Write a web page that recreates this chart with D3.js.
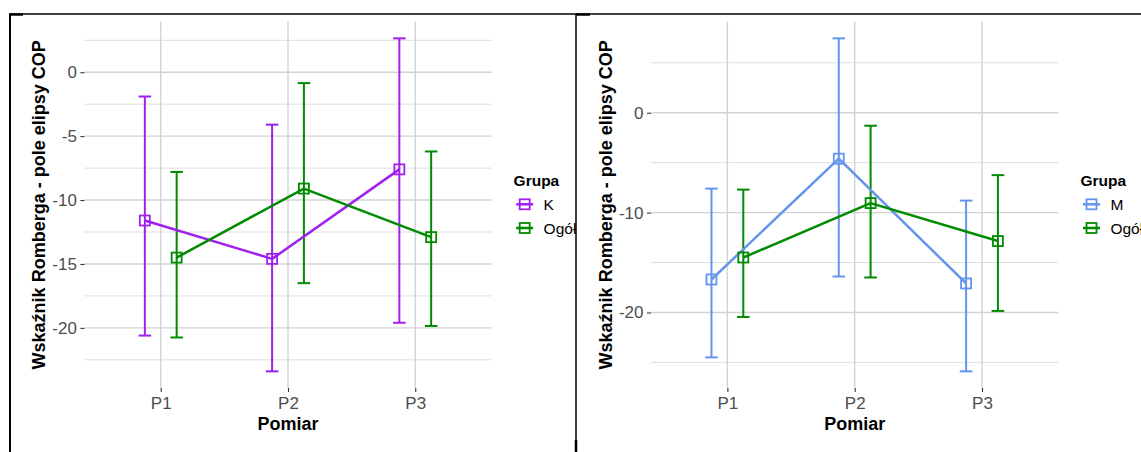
<!DOCTYPE html>
<html>
<head>
<meta charset="utf-8">
<script src="https://cdn.jsdelivr.net/npm/d3@7"></script>
<style>
  body { margin: 0; background: #fff; }
  svg { display: block; font-family: "Liberation Sans", Arial, sans-serif; }
</style>
</head>
<body>
<svg id="chart" width="1141" height="452"></svg>
<script>
// Measurement points
const categories = ["P1", "P2", "P3"];

// Left chart: group K vs. overall
const kMean  = [-11.6, -14.6, -7.6];
const kLower = [-20.6, -23.4, -19.6];
const kUpper = [-1.9, -4.1, 2.65];
const ogolLeftMean  = [-14.5, -9.1, -12.9];
const ogolLeftLower = [-20.75, -16.5, -19.85];
const ogolLeftUpper = [-7.8, -0.85, -6.2];

// Right chart: group M vs. overall
const mMean  = [-16.7, -4.6, -17.1];
const mLower = [-24.5, -16.4, -25.9];
const mUpper = [-7.6, 7.45, -8.8];
const ogolRightMean  = [-14.5, -9.05, -12.85];
const ogolRightLower = [-20.45, -16.5, -19.85];
const ogolRightUpper = [-7.7, -1.3, -6.25];

// Axis ticks
const leftMajorTicks = [0, -5, -10, -15, -20];
const leftMajorLabels = ["0", "-5", "-10", "-15", "-20"];
const leftMinorTicks = [2.5, -2.5, -7.5, -12.5, -17.5, -22.5];
const rightMajorTicks = [0, -10, -20];
const rightMajorLabels = ["0", "-10", "-20"];
const rightMinorTicks = [5, -5, -15, -25];

const yTitle = "Wskaźnik Romberga - pole elipsy COP";
const xTitle = "Pomiar";
const legendTitle = "Grupa";

const colK = "#a020f0";
const colM = "#6495ed";
const colOgol = "#008b00";

const svg = d3.select("#chart");

function drawPanel(cfg) {
  const g = svg.append("g").attr("clip-path", cfg.clip ? `url(#${cfg.clip})` : null);
  const top = 21.7, bottom = 388;
  const x = d3.scalePoint().domain(categories).range([cfg.left, cfg.right]).padding(0.6);
  const step = x.step();

  const allVals = cfg.series.flatMap(s => [...s.mean, ...s.lower, ...s.upper]);
  const [lo, hi] = d3.extent(allVals);
  const pad = (hi - lo) * 0.05;
  const y = d3.scaleLinear().domain([lo - pad, hi + pad]).range([bottom, top]);

  // grid
  g.append("g").selectAll("line").data(cfg.minor).join("line")
    .attr("x1", cfg.left).attr("x2", cfg.right)
    .attr("y1", d => y(d)).attr("y2", d => y(d))
    .attr("stroke", "#dedede").attr("stroke-width", 1);
  g.append("g").selectAll("line").data(cfg.major).join("line")
    .attr("x1", cfg.left).attr("x2", cfg.right)
    .attr("y1", d => y(d)).attr("y2", d => y(d))
    .attr("stroke", "#d2d2d2").attr("stroke-width", 1.4);
  g.append("g").selectAll("line").data(categories).join("line")
    .attr("x1", d => x(d)).attr("x2", d => x(d))
    .attr("y1", top).attr("y2", bottom)
    .attr("stroke", "#d2d2d2").attr("stroke-width", 1.4);

  // axes
  const yAxis = d3.axisLeft(y).tickValues(cfg.major)
    .tickFormat((d, i) => cfg.majorLabels[i]).tickSize(4).tickPadding(3.5);
  const ya = g.append("g").attr("transform", `translate(${cfg.left},0)`).call(yAxis);
  ya.select(".domain").remove();
  ya.selectAll(".tick line").attr("stroke", "#333").attr("stroke-width", 1.1);
  ya.selectAll(".tick text").attr("fill", "#4d4d4d").attr("font-size", 17)
    .attr("font-family", "Liberation Sans, Arial, sans-serif");

  const xAxis = d3.axisBottom(x).tickSize(4).tickPadding(4.5);
  const xa = g.append("g").attr("transform", `translate(0,${bottom})`).call(xAxis);
  xa.select(".domain").remove();
  xa.selectAll(".tick line").attr("stroke", "#333").attr("stroke-width", 1.1);
  xa.selectAll(".tick text").attr("fill", "#4d4d4d").attr("font-size", 17)
    .attr("font-family", "Liberation Sans, Arial, sans-serif");

  // titles
  g.append("text").attr("x", (cfg.left + cfg.right) / 2).attr("y", 430)
    .attr("text-anchor", "middle").attr("font-size", 18).attr("font-weight", "bold")
    .attr("fill", "#000").text(xTitle);
  g.append("text")
    .attr("transform", `translate(${cfg.left - 39.4},${(top + bottom) / 2}) rotate(-90)`)
    .attr("text-anchor", "middle").attr("font-size", 18).attr("font-weight", "bold")
    .attr("fill", "#000").text(yTitle);

  const px = (s, i) => x(categories[i]) + s.dodge * step;
  const sq = 10;

  // error bars
  cfg.series.forEach(s => {
    const eg = g.append("g").attr("stroke", s.color).attr("stroke-width", 2).attr("fill", "none");
    categories.forEach((c, i) => {
      const cx = px(s, i), cap = 6.3;
      eg.append("line").attr("x1", cx).attr("x2", cx).attr("y1", y(s.lower[i])).attr("y2", y(s.upper[i]));
      eg.append("line").attr("x1", cx - cap).attr("x2", cx + cap).attr("y1", y(s.lower[i])).attr("y2", y(s.lower[i]));
      eg.append("line").attr("x1", cx - cap).attr("x2", cx + cap).attr("y1", y(s.upper[i])).attr("y2", y(s.upper[i]));
    });
  });

  // connecting lines
  cfg.series.forEach(s => {
    const line = d3.line().x((d, i) => px(s, i)).y(d => y(d));
    g.append("path").datum(s.mean).attr("d", line)
      .attr("fill", "none").attr("stroke", s.color).attr("stroke-width", 2.5)
      .attr("stroke-linejoin", "round");
  });

  // points (open squares)
  cfg.series.forEach(s => {
    g.append("g").selectAll("rect").data(s.mean).join("rect")
      .attr("x", (d, i) => px(s, i) - sq / 2).attr("y", d => y(d) - sq / 2)
      .attr("width", sq).attr("height", sq)
      .attr("fill", "none").attr("stroke", s.color).attr("stroke-width", 1.8);
  });

  // legend
  const lx = cfg.right;
  g.append("text").attr("x", lx + 22).attr("y", 185.5)
    .attr("font-size", 15.5).attr("font-weight", "bold").attr("fill", "#000").text(legendTitle);
  cfg.series.forEach((s, k) => {
    const ry = 204.3 + k * 23.7;
    const kg = g.append("g");
    kg.append("line").attr("x1", lx + 24.6).attr("x2", lx + 41.6).attr("y1", ry).attr("y2", ry)
      .attr("stroke", s.color).attr("stroke-width", 2.5);
    kg.append("rect").attr("x", lx + 33.1 - sq / 2).attr("y", ry - sq / 2)
      .attr("width", sq).attr("height", sq).attr("fill", "none")
      .attr("stroke", s.color).attr("stroke-width", 1.8);
    kg.append("text").attr("x", lx + 52).attr("y", ry).attr("dy", "0.36em")
      .attr("font-size", 15.5).attr("fill", "#000").text(s.name);
  });
}

// clip region for the left chart
svg.append("defs").append("clipPath").attr("id", "clipLeft")
  .append("rect").attr("x", 10).attr("y", 14).attr("width", 566).attr("height", 438);

drawPanel({
  left: 84.4, right: 491.6, clip: "clipLeft",
  major: leftMajorTicks, majorLabels: leftMajorLabels, minor: leftMinorTicks,
  series: [
    { name: "K", color: colK, mean: kMean, lower: kLower, upper: kUpper, dodge: -0.125 },
    { name: "Ogół", color: colOgol, mean: ogolLeftMean, lower: ogolLeftLower, upper: ogolLeftUpper, dodge: 0.125 }
  ]
});

drawPanel({
  left: 651, right: 1058.4, clip: null,
  major: rightMajorTicks, majorLabels: rightMajorLabels, minor: rightMinorTicks,
  series: [
    { name: "M", color: colM, mean: mMean, lower: mLower, upper: mUpper, dodge: -0.125 },
    { name: "Ogół", color: colOgol, mean: ogolRightMean, lower: ogolRightLower, upper: ogolRightUpper, dodge: 0.125 }
  ]
});

// frame lines around the pictures
const frame = svg.append("g").attr("stroke", "#000").attr("fill", "none");
frame.append("line").attr("x1", 9).attr("x2", 1141).attr("y1", 14).attr("y2", 14).attr("stroke-width", 1.5);
frame.append("line").attr("x1", 10).attr("x2", 10).attr("y1", 14).attr("y2", 452).attr("stroke-width", 2);
frame.append("line").attr("x1", 576).attr("x2", 576).attr("y1", 14).attr("y2", 452).attr("stroke-width", 1.5);
frame.append("line").attr("x1", 10).attr("x2", 23).attr("y1", 14.5).attr("y2", 14.5).attr("stroke-width", 2.5);
frame.append("line").attr("x1", 576).attr("x2", 590).attr("y1", 14.5).attr("y2", 14.5).attr("stroke-width", 2.5);
frame.append("line").attr("x1", 576).attr("x2", 576).attr("y1", 440).attr("y2", 452).attr("stroke-width", 2.5);
</script>
</body>
</html>
